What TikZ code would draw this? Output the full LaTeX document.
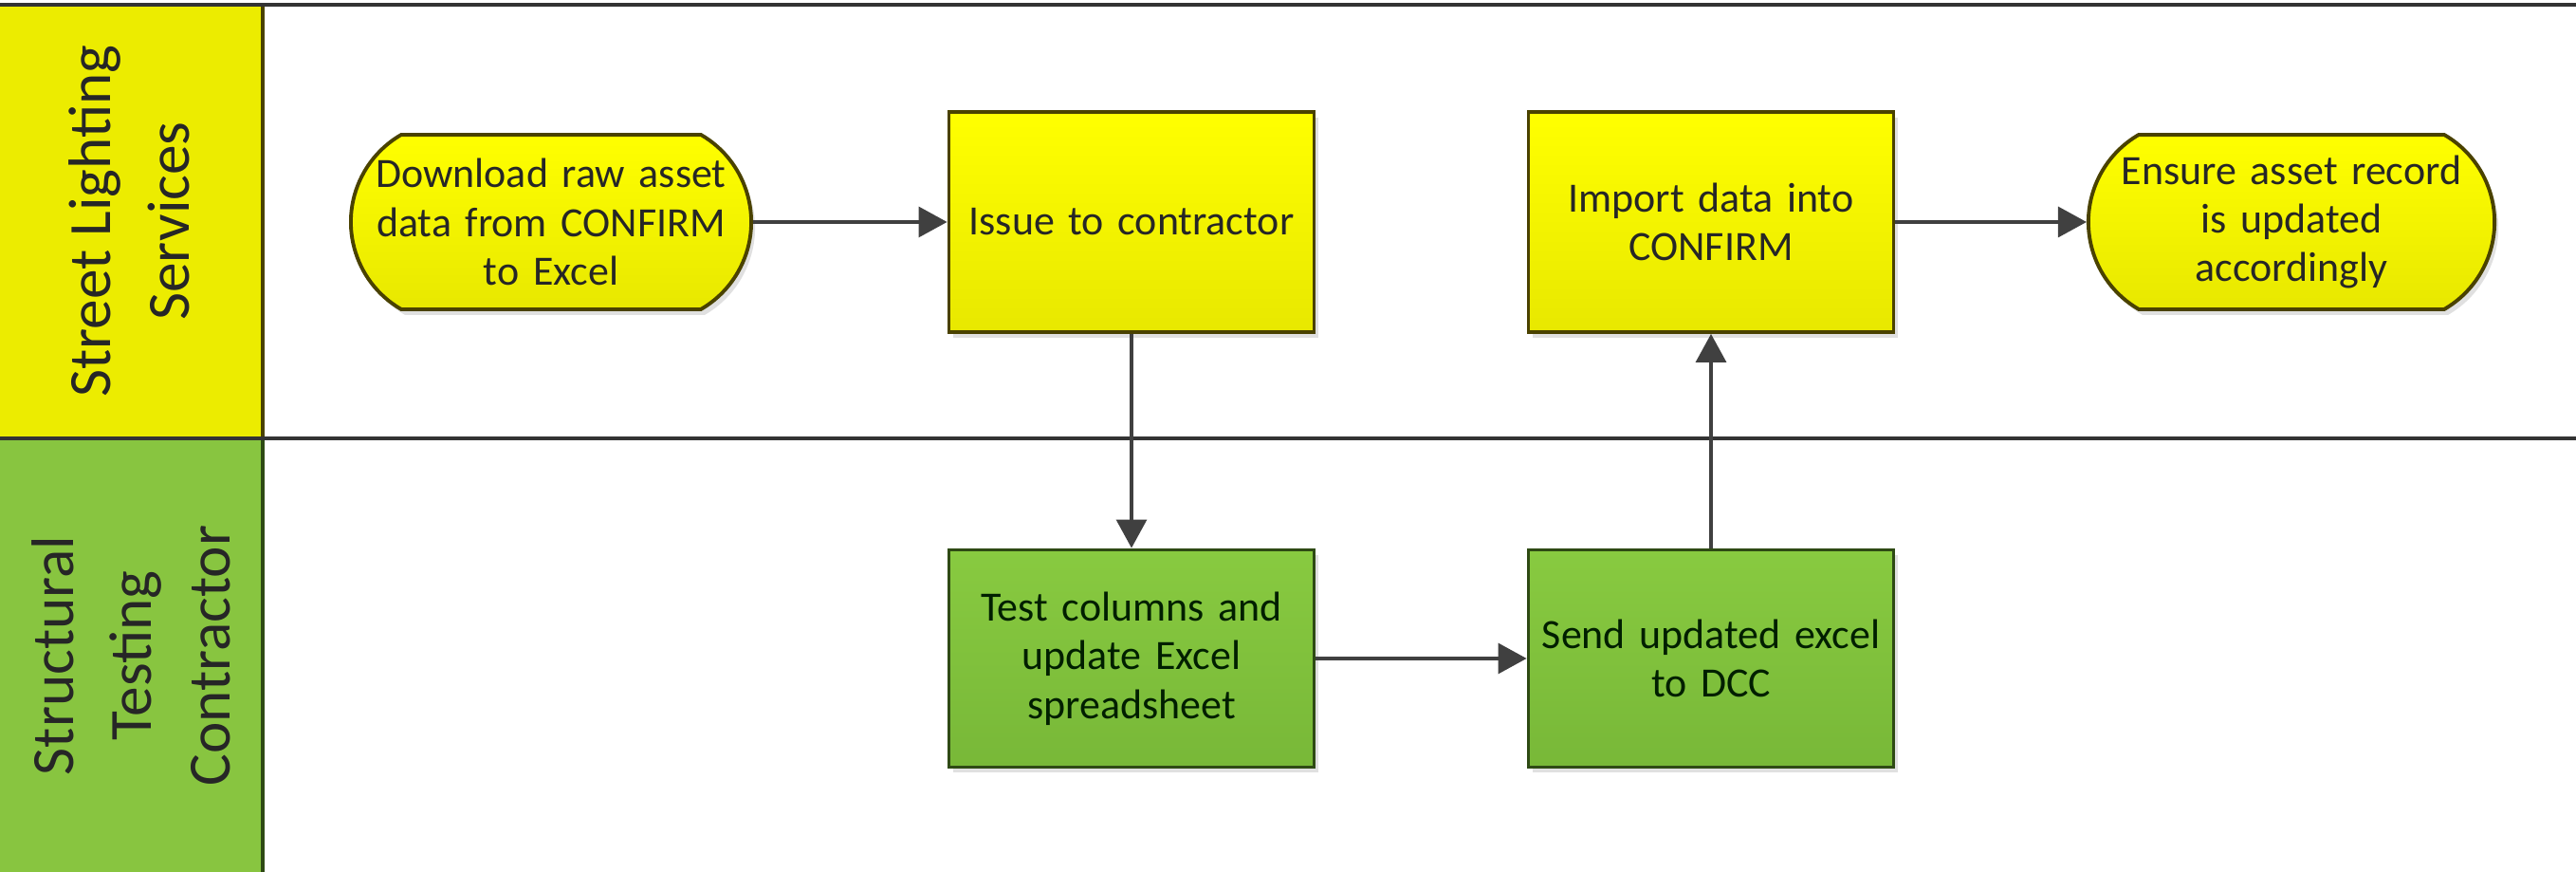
\documentclass[tikz,border=0pt]{standalone}
\usepackage{fontspec}
\setmainfont{Carlito}
\usetikzlibrary{arrows.meta,shapes.misc,shadows}
\definecolor{laneY}{HTML}{ECEC00}
\definecolor{laneG}{HTML}{88C540}
\definecolor{nodeYtop}{HTML}{FFFF00}
\definecolor{nodeYbot}{HTML}{E8E800}
\definecolor{nodeGtop}{HTML}{88CA40}
\definecolor{nodeGbot}{HTML}{78B838}
\definecolor{bordY}{HTML}{4A4200}
\definecolor{bordG}{HTML}{2E4A14}
\definecolor{lineC}{HTML}{404040}
\tikzset{
  shapebase/.style={inner sep=0pt, align=center, font=\fontsize{12.5}{14.6}\selectfont,
    line width=1.1pt, drop shadow={shadow xshift=0.04cm, shadow yshift=-0.06cm, opacity=0.12, fill=black}},
  yproc/.style={shapebase, rectangle, draw=bordY, top color=nodeYtop, bottom color=nodeYbot,
    minimum width=3.85cm, minimum height=2.32cm, text width=3.6cm, text=black!85},
  gproc/.style={shapebase, rectangle, draw=bordG, top color=nodeGtop, bottom color=nodeGbot,
    minimum width=3.85cm, minimum height=2.29cm, text width=3.6cm, text={black!70!green!40!black}},
  yterm/.style={shapebase, rounded rectangle, rounded rectangle arc length=120, draw=bordY,
    top color=nodeYtop, bottom color=nodeYbot, minimum width=3.82cm, minimum height=1.84cm,
    text width=3.75cm, text=black!85},
  flow/.style={draw=lineC, line width=0.9pt, -{Triangle[length=0.3cm,width=0.32cm]}},
  lanetext/.style={rotate=90, align=center, font=\fontsize{18}{23.5}\selectfont, text=black!85},
  laneline/.style={draw=lineC!80!black, line width=1.1pt}
}
\begin{document}
\begin{tikzpicture}
\useasboundingbox (0,0) rectangle (27.16,9.19);
\fill[white] (0,0) rectangle (27.16,9.19);
% lane headers
\fill[laneY] (0,4.57) rectangle (2.77,9.14);
\fill[laneG] (0,0) rectangle (2.77,4.57);
\draw[draw=bordY, line width=1.1pt] (2.77,4.57) -- (2.77,9.14);
\draw[draw=bordG, line width=1.1pt] (2.77,0) -- (2.77,4.57);
\draw[laneline] (0,9.14) -- (27.16,9.14);
\draw[laneline] (0,4.57) -- (27.16,4.57);
\node[lanetext] (lane1) at (1.36,6.86) {Street Lighting\\Services};
\node[lanetext] (lane2) at (1.38,2.28) {Structural\\Testing\\Contractor};
% nodes
\node[yterm] (n1) at (5.81,6.85) {Download raw asset\\data from CONFIRM\\to Excel};
\node[yproc] (n2) at (11.93,6.85) {Issue to contractor};
\node[yproc] (n3) at (18.04,6.85) {Import data into\\CONFIRM};
\node[yterm] (n4) at (24.16,6.85) {Ensure asset record\\is updated\\accordingly};
\node[gproc] (n5) at (11.93,2.25) {Test columns and\\update Excel\\spreadsheet};
\node[gproc] (n6) at (18.04,2.25) {Send updated excel\\to DCC};
% connectors
\draw[flow] (n1.east) -- (n2.west);
\draw[flow] (n2.south) -- (n5.north);
\draw[flow] (n5.east) -- (n6.west);
\draw[flow] (n6.north) -- (n3.south);
\draw[flow] (n3.east) -- (n4.west);
\end{tikzpicture}
\end{document}
